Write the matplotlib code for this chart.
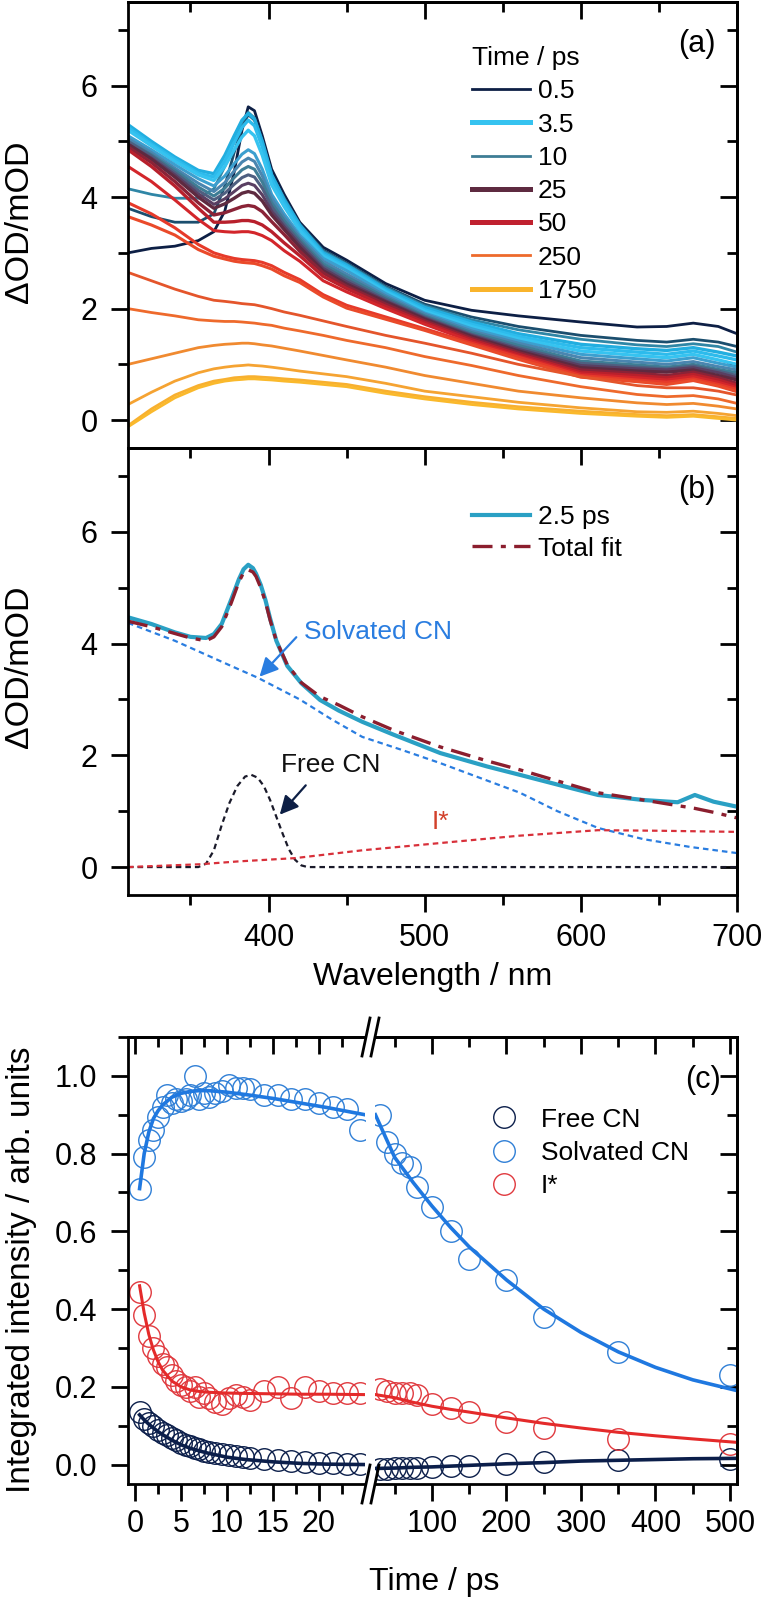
import matplotlib
matplotlib.use("Agg")
import matplotlib.pyplot as plt
from matplotlib.ticker import MultipleLocator, FixedLocator, NullFormatter, FormatStrFormatter
from matplotlib.lines import Line2D

plt.rcParams['font.family'] = ['Liberation Sans', 'DejaVu Sans']
plt.rcParams['axes.linewidth'] = 2.0

# ---------------------------------------------------------------- data (a)
wl_a = [310, 325, 340, 355, 365, 372, 378, 383, 387, 391, 396, 402, 410, 420,
        435, 450, 475, 500, 530, 560, 600, 636, 655, 672, 688, 700]

spec_0p5 = [3.00, 3.08, 3.12, 3.22, 3.38, 3.75, 4.45, 5.20, 5.62, 5.55, 5.10, 4.50, 4.05, 3.55,
            3.10, 2.87, 2.45, 2.15, 1.97, 1.87, 1.76, 1.67, 1.68, 1.74, 1.68, 1.55]
spec_1 = [3.80, 3.65, 3.55, 3.55, 3.70, 4.20, 4.80, 5.25, 5.48, 5.38, 4.98, 4.40, 3.98, 3.52,
          3.05, 2.82, 2.40, 2.08, 1.85, 1.68, 1.52, 1.43, 1.40, 1.45, 1.40, 1.32]
spec_1p5 = [4.15, 4.05, 3.98, 3.98, 4.15, 4.55, 5.00, 5.35, 5.52, 5.42, 5.00, 4.40, 3.98, 3.50,
            3.03, 2.80, 2.38, 2.05, 1.80, 1.62, 1.45, 1.35, 1.32, 1.37, 1.32, 1.22]
spec_2 = [5.30, 5.00, 4.72, 4.48, 4.42, 4.75, 5.10, 5.38, 5.50, 5.40, 5.00, 4.40, 3.95, 3.50,
          3.00, 2.78, 2.35, 2.02, 1.76, 1.55, 1.36, 1.28, 1.25, 1.30, 1.22, 1.15]
spec_2p5 = [5.25, 4.95, 4.68, 4.43, 4.36, 4.65, 4.98, 5.25, 5.38, 5.28, 4.90, 4.32, 3.90, 3.45,
            2.97, 2.75, 2.32, 1.98, 1.72, 1.50, 1.30, 1.22, 1.18, 1.24, 1.15, 1.08]
spec_3p5 = [5.20, 4.92, 4.64, 4.40, 4.30, 4.55, 4.85, 5.08, 5.20, 5.10, 4.75, 4.22, 3.83, 3.40,
            2.94, 2.72, 2.30, 1.95, 1.68, 1.46, 1.24, 1.16, 1.12, 1.18, 1.08, 1.00]
spec_5 = [5.10, 4.85, 4.58, 4.33, 4.20, 4.38, 4.60, 4.77, 4.85, 4.78, 4.50, 4.05, 3.70, 3.32,
          2.90, 2.68, 2.27, 1.92, 1.64, 1.42, 1.18, 1.10, 1.06, 1.12, 1.02, 0.95]
spec_7 = [5.05, 4.80, 4.52, 4.25, 4.10, 4.26, 4.47, 4.63, 4.70, 4.64, 4.38, 3.98, 3.64, 3.28,
          2.85, 2.62, 2.23, 1.90, 1.60, 1.38, 1.12, 1.04, 1.00, 1.05, 0.96, 0.90]
spec_10 = [5.00, 4.76, 4.48, 4.18, 4.02, 4.16, 4.35, 4.49, 4.55, 4.50, 4.27, 3.90, 3.58, 3.24,
           2.80, 2.57, 2.20, 1.87, 1.57, 1.34, 1.06, 0.99, 0.95, 1.00, 0.91, 0.85]
spec_15 = [5.00, 4.74, 4.44, 4.12, 3.95, 4.07, 4.23, 4.35, 4.40, 4.36, 4.16, 3.83, 3.52, 3.20,
           2.76, 2.52, 2.17, 1.85, 1.54, 1.30, 1.02, 0.95, 0.92, 0.97, 0.88, 0.80]
spec_20 = [4.95, 4.70, 4.40, 4.06, 3.87, 3.97, 4.10, 4.21, 4.25, 4.21, 4.04, 3.75, 3.47, 3.15,
           2.72, 2.48, 2.14, 1.83, 1.52, 1.27, 0.98, 0.92, 0.90, 0.94, 0.85, 0.76]
spec_25 = [4.95, 4.68, 4.36, 4.00, 3.80, 3.88, 3.98, 4.07, 4.10, 4.07, 3.93, 3.68, 3.42, 3.10,
           2.68, 2.44, 2.12, 1.81, 1.50, 1.24, 0.94, 0.88, 0.86, 0.90, 0.80, 0.72]
spec_35 = [4.90, 4.62, 4.28, 3.90, 3.68, 3.72, 3.78, 3.83, 3.85, 3.83, 3.74, 3.56, 3.33, 3.03,
           2.64, 2.40, 2.08, 1.78, 1.47, 1.21, 0.90, 0.84, 0.80, 0.86, 0.76, 0.66]
spec_50 = [4.85, 4.55, 4.20, 3.80, 3.55, 3.55, 3.56, 3.58, 3.58, 3.56, 3.50, 3.38, 3.18, 2.95,
           2.58, 2.36, 2.04, 1.75, 1.44, 1.18, 0.86, 0.80, 0.76, 0.82, 0.72, 0.62]
spec_75 = [4.55, 4.28, 3.95, 3.60, 3.40, 3.38, 3.37, 3.38, 3.38, 3.36, 3.31, 3.22, 3.04, 2.85,
           2.50, 2.30, 2.00, 1.72, 1.41, 1.15, 0.83, 0.76, 0.72, 0.78, 0.68, 0.58]
spec_100 = [3.90, 3.70, 3.45, 3.15, 3.00, 2.94, 2.90, 2.88, 2.87, 2.86, 2.83, 2.77, 2.65, 2.52,
            2.25, 2.06, 1.85, 1.64, 1.38, 1.13, 0.80, 0.72, 0.68, 0.74, 0.64, 0.55]
spec_125 = [3.65, 3.50, 3.32, 3.06, 2.94, 2.89, 2.85, 2.83, 2.82, 2.81, 2.77, 2.71, 2.59, 2.47,
            2.21, 2.01, 1.81, 1.61, 1.35, 1.09, 0.77, 0.69, 0.64, 0.71, 0.61, 0.51]
spec_150 = [2.65, 2.50, 2.35, 2.22, 2.15, 2.13, 2.11, 2.09, 2.08, 2.07, 2.04, 2.00, 1.94, 1.88,
            1.78, 1.68, 1.52, 1.38, 1.20, 1.00, 0.78, 0.62, 0.58, 0.58, 0.52, 0.45]
spec_250 = [2.00, 1.93, 1.87, 1.80, 1.78, 1.77, 1.77, 1.76, 1.75, 1.74, 1.72, 1.70, 1.65, 1.60,
            1.52, 1.43, 1.30, 1.14, 0.98, 0.80, 0.60, 0.46, 0.42, 0.44, 0.38, 0.30]
spec_500 = [1.00, 1.10, 1.20, 1.30, 1.34, 1.36, 1.37, 1.38, 1.38, 1.37, 1.35, 1.33, 1.29, 1.24,
            1.16, 1.08, 0.95, 0.80, 0.66, 0.52, 0.40, 0.31, 0.28, 0.30, 0.25, 0.20]
spec_1000 = [0.28, 0.50, 0.70, 0.85, 0.92, 0.95, 0.97, 0.98, 0.99, 0.98, 0.97, 0.95, 0.92, 0.88,
             0.83, 0.78, 0.66, 0.52, 0.42, 0.32, 0.22, 0.15, 0.14, 0.16, 0.12, 0.08]
spec_1500 = [-0.10, 0.20, 0.45, 0.62, 0.70, 0.73, 0.76, 0.77, 0.78, 0.78, 0.77, 0.76, 0.74, 0.72,
             0.68, 0.64, 0.52, 0.42, 0.32, 0.24, 0.16, 0.10, 0.08, 0.10, 0.06, 0.03]
spec_1750 = [-0.12, 0.15, 0.40, 0.58, 0.66, 0.70, 0.72, 0.73, 0.74, 0.74, 0.73, 0.72, 0.70, 0.68,
             0.64, 0.60, 0.48, 0.38, 0.28, 0.20, 0.12, 0.07, 0.05, 0.07, 0.03, 0.00]

legend_times = ['0.5', '3.5', '10', '25', '50', '250', '1750']

# ---------------------------------------------------------------- data (b)
wl_b = [310, 325, 340, 350, 360, 365, 370, 376, 379, 381, 384, 387, 390, 392, 395, 398, 401,
        405, 412, 421, 433, 445, 460, 480, 510, 540, 561, 590, 611, 640, 662, 673, 685, 700]
data_2p5 = [4.47, 4.35, 4.20, 4.12, 4.10, 4.17, 4.35, 4.78, 5.00, 5.15, 5.33, 5.41, 5.35, 5.25,
            5.05, 4.78, 4.45, 4.05, 3.60, 3.29, 2.99, 2.80, 2.60, 2.37, 2.04, 1.80, 1.65, 1.44,
            1.29, 1.20, 1.16, 1.29, 1.17, 1.08]
total_fit = [4.40, 4.30, 4.18, 4.10, 4.05, 4.12, 4.30, 4.72, 4.95, 5.10, 5.27, 5.32, 5.28, 5.20,
             5.00, 4.75, 4.42, 4.05, 3.62, 3.30, 3.05, 2.90, 2.69, 2.45, 2.15, 1.90, 1.74, 1.50,
             1.33, 1.20, 1.10, 1.05, 0.98, 0.88]

wl_solv = [310, 340, 360, 380, 393, 420, 440, 460, 485, 510, 535, 561, 585, 611, 640, 670, 700]
solvated_cn = [4.37, 4.05, 3.80, 3.55, 3.39, 3.00, 2.65, 2.33, 2.10, 1.86, 1.60, 1.33, 1.00,
               0.70, 0.50, 0.36, 0.25]

wl_free = [310, 355, 360, 365, 370, 375, 380, 385, 389, 393, 397, 401, 405, 409, 413, 417,
           421, 425, 700]
free_cn = [0.0, 0.0, 0.06, 0.30, 0.75, 1.15, 1.45, 1.62, 1.65, 1.60, 1.45, 1.20, 0.90, 0.60,
           0.32, 0.13, 0.03, 0.0, 0.0]

wl_istar = [310, 356, 380, 417, 460, 510, 560, 611, 650, 700]
istar = [0.0, 0.05, 0.10, 0.16, 0.30, 0.43, 0.56, 0.66, 0.65, 0.63]

# ---------------------------------------------------------------- data (c)
t_left = [0.5, 1, 1.5, 2, 2.5, 3, 3.5, 4, 4.5, 5, 5.5, 6, 6.5, 7, 7.5, 8, 8.75, 9.5,
          10.25, 11, 11.75, 12.5, 14, 15.5, 17, 18.5, 20, 21.5, 23, 24.5]
free_left = [0.135, 0.118, 0.108, 0.098, 0.090, 0.082, 0.075, 0.068, 0.062, 0.056, 0.051, 0.047,
             0.043, 0.040, 0.036, 0.033, 0.030, 0.027, 0.024, 0.021, 0.019, 0.017, 0.014, 0.011,
             0.009, 0.006, 0.005, 0.004, 0.002, 0.001]
solv_left = [0.71, 0.79, 0.835, 0.86, 0.895, 0.92, 0.95, 0.93, 0.94, 0.935, 0.94, 0.95, 1.00, 0.94,
             0.955, 0.945, 0.955, 0.96, 0.977, 0.97, 0.97, 0.965, 0.95, 0.95, 0.94, 0.94, 0.93,
             0.92, 0.915, 0.86]
istar_left = [0.445, 0.385, 0.33, 0.30, 0.28, 0.26, 0.25, 0.23, 0.215, 0.205, 0.20, 0.19, 0.20,
              0.175, 0.185, 0.17, 0.16, 0.155, 0.17, 0.18, 0.175, 0.165, 0.19, 0.20, 0.17, 0.20,
              0.19, 0.185, 0.185, 0.185]

t_right = [30, 40, 50, 60, 70, 80, 100, 125, 150, 200, 250, 350, 500]
free_right = [-0.012, -0.012, -0.010, -0.010, -0.010, -0.008, -0.006, -0.004, -0.004, 0.001,
              0.006, 0.013, 0.014]
solv_right = [0.90, 0.83, 0.80, 0.775, 0.765, 0.715, 0.663, 0.60, 0.53, 0.474, 0.38, 0.29, 0.23]
istar_right = [0.195, 0.19, 0.185, 0.185, 0.185, 0.18, 0.155, 0.145, 0.134, 0.11, 0.095, 0.065,
               0.052]

tfit_left = [0.5, 1, 1.5, 2, 2.5, 3, 4, 5, 6, 7, 8, 10, 12, 15, 18, 21, 25]
free_fit_left = [0.128, 0.115, 0.104, 0.094, 0.085, 0.077, 0.063, 0.051, 0.042, 0.035, 0.029,
                 0.019, 0.013, 0.007, 0.003, 0.001, 0.0]
solv_fit_left = [0.71, 0.80, 0.855, 0.89, 0.91, 0.925, 0.945, 0.955, 0.96, 0.962, 0.962, 0.958,
                 0.952, 0.942, 0.930, 0.918, 0.90]
istar_fit_left = [0.46, 0.39, 0.335, 0.295, 0.265, 0.243, 0.215, 0.20, 0.192, 0.188, 0.186,
                  0.184, 0.183, 0.182, 0.181, 0.181, 0.18]

tfit_right = [24, 50, 75, 100, 125, 150, 200, 250, 300, 350, 400, 450, 510]
free_fit_right = [-0.010, -0.009, -0.007, -0.006, -0.004, -0.002, 0.002, 0.005, 0.009, 0.011,
                  0.013, 0.015, 0.016]
solv_fit_right = [0.90, 0.79, 0.725, 0.665, 0.61, 0.56, 0.475, 0.40, 0.34, 0.29, 0.25, 0.218, 0.19]
istar_fit_right = [0.18, 0.172, 0.16, 0.15, 0.142, 0.135, 0.12, 0.106, 0.094, 0.083, 0.074,
                   0.066, 0.057]

# ---------------------------------------------------------------- figure
W, H = 761, 1600
fig = plt.figure(figsize=(W / 100, H / 100), dpi=100)


def px_axes(x0, y0, x1, y1):
    # axes from a pixel box, origin at top-left
    return fig.add_axes([x0 / W, 1 - y1 / H, (x1 - x0) / W, (y1 - y0) / H])


TICK_FS = 22
XLAB_FS = 23
YLAB_FS = 24.5
LEG_FS = 19
PANEL_FS = 22
MAJ, MIN, TW = 12, 7, 2.0


def style(ax, xmaj, xmin, ymaj, ymin, bottom=True, top=True, left=True, right=True,
          xlabels=True, ylabels=True, xpad=8):
    ax.tick_params(which='both', direction='out', width=TW, top=False, right=False,
                   bottom=bottom, left=left, labelbottom=xlabels, labelleft=ylabels,
                   labelsize=TICK_FS)
    ax.tick_params(which='major', length=MAJ)
    ax.tick_params(which='minor', length=MIN)
    ax.tick_params(axis='x', pad=xpad)
    ax.tick_params(axis='y', pad=10)
    ax.xaxis.set_major_locator(xmaj)
    ax.xaxis.set_minor_locator(xmin)
    ax.yaxis.set_major_locator(ymaj)
    ax.yaxis.set_minor_locator(ymin)
    if top:
        sx = ax.secondary_xaxis('top')
        sx.xaxis.set_major_locator(xmaj)
        sx.xaxis.set_minor_locator(xmin)
        sx.xaxis.set_major_formatter(NullFormatter())
        sx.tick_params(which='both', direction='in', width=TW)
        sx.tick_params(which='major', length=MAJ)
        sx.tick_params(which='minor', length=MIN)
    if right:
        sy = ax.secondary_yaxis('right')
        sy.yaxis.set_major_locator(ymaj)
        sy.yaxis.set_minor_locator(ymin)
        sy.yaxis.set_major_formatter(NullFormatter())
        sy.tick_params(which='both', direction='in', width=TW)
        sy.tick_params(which='major', length=MAJ)
        sy.tick_params(which='minor', length=MIN)


# ------------------------------------------------------------ panel (a)
ax_a = px_axes(128, 2, 737, 448)
curves_a = [
    (spec_0p5, '#0d1f45', 2.0), (spec_1, '#1b4e6e', 2.0), (spec_1p5, '#2f86a6', 2.0),
    (spec_2, '#22aee0', 2.4), (spec_2p5, '#2dbbec', 2.4), (spec_3p5, '#36c3f0', 2.4),
    (spec_5, '#3c9fcf', 2.2), (spec_7, '#4a86b0', 2.2), (spec_10, '#3e7d95', 2.2),
    (spec_15, '#4f5f80', 2.2), (spec_20, '#5a3f62', 2.2), (spec_25, '#5e2a40', 2.4),
    (spec_35, '#8a2337', 2.4), (spec_50, '#b8202c', 2.4), (spec_75, '#d3262b', 2.2),
    (spec_100, '#e63a2a', 2.2), (spec_125, '#ea4a2a', 2.2), (spec_150, '#e4552b', 2.0),
    (spec_250, '#ee6a2c', 2.0), (spec_500, '#f08a30', 2.0), (spec_1000, '#f5a332', 2.0),
    (spec_1500, '#f8b030', 2.0), (spec_1750, '#fab92c', 2.0),
]
for vals, col, lw in curves_a:
    ax_a.plot(wl_a, vals, color=col, lw=lw, solid_joinstyle='round')
ax_a.set_xlim(310, 700)
ax_a.set_ylim(-0.5, 7.5)
style(ax_a, MultipleLocator(100), MultipleLocator(50), MultipleLocator(2), MultipleLocator(1),
      bottom=False, xlabels=False)

leg_colors = ['#0d1f45', '#36c3f0', '#3e7d95', '#5e2a40', '#c0212f', '#ee6a2c', '#f9b42c']
leg_widths = [2.0, 3.6, 2.0, 3.6, 3.6, 2.0, 3.6]
handles_a = [Line2D([], [], color=c, lw=w) for c, w in zip(leg_colors, leg_widths)]
ax_a.legend(handles_a, legend_times, title='Time / ps', loc='upper left',
            bbox_to_anchor=(0.565, 0.901), frameon=False, fontsize=LEG_FS,
            title_fontsize=LEG_FS, handlelength=2.2, handletextpad=0.3,
            labelspacing=0.35, borderpad=0, borderaxespad=0, alignment='left')
ax_a.text(0.934, 0.905, '(a)', transform=ax_a.transAxes, fontsize=PANEL_FS,
          ha='center', va='center')

# ------------------------------------------------------------ panel (b)
ax_b = px_axes(128, 448, 737, 895)
dash = (0, (2.5, 1.8))
ax_b.plot(wl_solv, solvated_cn, color='#2a7de0', lw=1.6, ls=dash)
ax_b.plot(wl_free, free_cn, color='#1a1a2a', lw=1.6, ls=dash)
ax_b.plot(wl_istar, istar, color='#d8303a', lw=1.6, ls=dash)
ax_b.plot(wl_b, data_2p5, color='#2aa0c4', lw=3.0, label='2.5 ps', solid_joinstyle='round')
ax_b.plot(wl_b, total_fit, color='#8b1e2e', lw=2.4, ls=(0, (6, 2.5, 1.5, 2.5)),
          label='Total fit')
ax_b.set_xlim(310, 700)
ax_b.set_ylim(-0.5, 7.5)
style(ax_b, MultipleLocator(100), MultipleLocator(50), MultipleLocator(2), MultipleLocator(1),
      xpad=8)
ax_b.legend(loc='upper left', bbox_to_anchor=(0.565, 0.873), frameon=False, fontsize=LEG_FS,
            handlelength=2.2, handletextpad=0.3, labelspacing=0.3, borderpad=0,
            borderaxespad=0)
ax_b.text(0.934, 0.906, '(b)', transform=ax_b.transAxes, fontsize=PANEL_FS,
          ha='center', va='center')

ax_b.text(470, 4.2, 'Solvated CN', color='#2a7de0', fontsize=LEG_FS, ha='center', va='center')
ax_b.annotate('', xy=(393, 3.37), xytext=(419, 4.15),
              arrowprops=dict(arrowstyle='-|>', color='#2a7de0', lw=1.6, mutation_scale=28))
ax_b.text(440, 1.82, 'Free CN', color='#111111', fontsize=LEG_FS, ha='center', va='center')
ax_b.annotate('', xy=(406, 0.9), xytext=(425, 1.5),
              arrowprops=dict(arrowstyle='-|>', color='#0d1f45', lw=1.6, mutation_scale=28))
ax_b.text(510, 0.8, 'I*', color='#d2402a', fontsize=LEG_FS, ha='center', va='center')

# ------------------------------------------------------------ panel (c)
ax_cl = px_axes(128, 1037, 365, 1484)
ax_cr = px_axes(375, 1037, 737, 1484)

c_free, c_solv, c_istar = '#0b1e4a', '#2f7fd6', '#e0393e'
f_free, f_solv, f_istar = '#0b1e4a', '#1f78e0', '#e42a2a'
mk = dict(marker='o', ls='none', ms=15.5, mfc='none', mew=1.0)

for ax, t, fv, sv, iv, tf, ff, sf, jf in [
        (ax_cl, t_left, free_left, solv_left, istar_left,
         tfit_left, free_fit_left, solv_fit_left, istar_fit_left),
        (ax_cr, t_right, free_right, solv_right, istar_right,
         tfit_right, free_fit_right, solv_fit_right, istar_fit_right)]:
    ax.plot(t, fv, mec=c_free, **mk)
    ax.plot(t, sv, mec=c_solv, **mk)
    ax.plot(t, iv, mec=c_istar, **mk)
    ax.plot(tf, ff, color=f_free, lw=2.6)
    ax.plot(tf, sf, color=f_solv, lw=2.6)
    ax.plot(tf, jf, color=f_istar, lw=2.2)
    ax.set_ylim(-0.05, 1.1)

ax_cl.set_xlim(-0.76, 25.0)
ax_cr.set_xlim(23.5, 509.4)

ax_cl.spines['right'].set_visible(False)
ax_cr.spines['left'].set_visible(False)
style(ax_cl, FixedLocator([0, 5, 10, 15, 20]), FixedLocator([2.5, 7.5, 12.5, 17.5, 22.5]),
      MultipleLocator(0.2), MultipleLocator(0.1), right=False, xpad=6)
style(ax_cr, FixedLocator([100, 200, 300, 400, 500]), FixedLocator([50, 150, 250, 350, 450]),
      MultipleLocator(0.2), MultipleLocator(0.1), left=False, ylabels=False, xpad=6)
ax_cl.yaxis.set_major_formatter(FormatStrFormatter('%.1f'))

handles_c = [Line2D([], [], mec=c, **mk) for c in (c_free, c_solv, c_istar)]
ax_cr.legend(handles_c, ['Free CN', 'Solvated CN', 'I*'], loc='upper left',
             bbox_to_anchor=(0.32, 0.842), frameon=False, fontsize=LEG_FS,
             handlelength=1.0, handletextpad=0.9, labelspacing=0.35, borderpad=0,
             borderaxespad=0)
ax_cr.text(0.906, 0.904, '(c)', transform=ax_cr.transAxes, fontsize=PANEL_FS,
           ha='center', va='center')

# axis break marks
for yc in (1037, 1484):
    for xc in (366, 375):
        fig.add_artist(Line2D([(xc - 4) / W, (xc + 4) / W],
                              [1 - (yc + 19) / H, 1 - (yc - 19) / H],
                              color='black', lw=2.0))

# ------------------------------------------------------------ labels
fig.text(20 / W, 1 - 222 / H, 'ΔOD/mOD', rotation=90, fontsize=YLAB_FS,
         ha='center', va='center')
fig.text(20 / W, 1 - 667 / H, 'ΔOD/mOD', rotation=90, fontsize=YLAB_FS,
         ha='center', va='center')
fig.text(22 / W, 1 - 1270 / H, 'Integrated intensity / arb. units', rotation=90,
         fontsize=YLAB_FS - 0.5, ha='center', va='center')
fig.text(433 / W, 1 - 977 / H, 'Wavelength / nm', fontsize=XLAB_FS, ha='center', va='center')
fig.text(434 / W, 1 - 1582 / H, 'Time / ps', fontsize=XLAB_FS, ha='center', va='center')

fig.savefig('out.png', dpi=100, facecolor='white')
